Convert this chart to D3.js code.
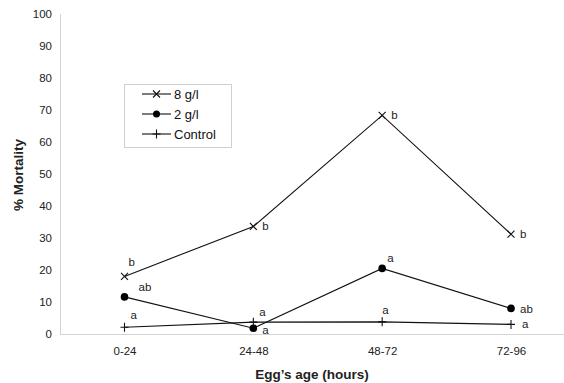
<!DOCTYPE html>
<html><head><meta charset="utf-8">
<script src="https://cdn.jsdelivr.net/npm/d3@7"></script>
<style>body{margin:0;background:#fff}svg{display:block;font-family:"Liberation Sans",Arial,sans-serif}</style>
</head><body><svg id="c" width="564" height="383"></svg>
<script>
const categories = ["0-24","24-48","48-72","72-96"];
const yTicks = [0,10,20,30,40,50,60,70,80,90,100];
const seriesNames = ["8 g/l","2 g/l","Control"];
const high = [18.0, 33.6, 68.3, 31.2];
const low = [11.6, 1.8, 20.5, 8.0];
const control = [2.1, 3.7, 3.8, 3.0];
const highLetters = ["b","b","b","b"];
const lowLetters = ["ab","a","a","ab"];
const controlLetters = ["a","a","a","a"];

const svg = d3.select("#c");
const mLeft = 60, mTop = 14, mBottom = 334;
const x = d3.scalePoint().domain(categories).range([124.5, 511]);
const y = d3.scaleLinear().domain([0,100]).range([mBottom, mTop]);

svg.append("line").attr("x1",mLeft+0.5).attr("x2",mLeft+0.5).attr("y1",mTop).attr("y2",mBottom).attr("stroke","#d4d4d4");
svg.append("line").attr("x1",mLeft).attr("x2",564).attr("y1",mBottom+0.5).attr("y2",mBottom+0.5).attr("stroke","#d4d4d4");

const yAxis = d3.axisLeft(y).tickValues(yTicks).tickSize(0).tickPadding(8);
const gy = svg.append("g").attr("transform",`translate(${mLeft},0)`).call(yAxis);
gy.select(".domain").remove();
gy.selectAll("text").attr("font-size",11.5).attr("fill","#222").attr("font-family","Liberation Sans, Arial, sans-serif");

const xAxis = d3.axisBottom(x).tickSize(0).tickPadding(13);
const gx = svg.append("g").attr("transform",`translate(0,${mBottom})`).call(xAxis);
gx.select(".domain").remove();
gx.selectAll("text").attr("font-size",11.5).attr("fill","#222").attr("font-family","Liberation Sans, Arial, sans-serif");

svg.append("text").attr("x",312).attr("y",379).attr("text-anchor","middle").attr("font-size",13.5).attr("font-weight","bold").attr("fill","#222").text("Egg’s age (hours)");
svg.append("text").attr("transform","translate(23,175) rotate(-90)").attr("text-anchor","middle").attr("font-size",13.5).attr("font-weight","bold").attr("fill","#222").text("% Mortality");

const line = d3.line().x((d,i)=>x(categories[i])).y(d=>y(d));
const series = [
  {vals: high, letters: highLetters, marker: "x"},
  {vals: low, letters: lowLetters, marker: "dot"},
  {vals: control, letters: controlLetters, marker: "plus"}
];
const offs = [
  [[4,-10],[9,4],[9,4],[9,4]],
  [[14,-6],[9,6],[5,-6],[9,5]],
  [[6,-8],[6,-6],[0,-8],[11,4]]
];

function drawMarker(g, type, cx, cy, r){
  if(type==="x"){
    const s=3.5;
    g.append("path").attr("d",`M${cx-s},${cy-s}L${cx+s},${cy+s}M${cx-s},${cy+s}L${cx+s},${cy-s}`).attr("stroke","#111").attr("stroke-width",1.1);
  } else if(type==="dot"){
    g.append("circle").attr("cx",cx).attr("cy",cy).attr("r",r||3.8).attr("fill","#000");
  } else {
    g.append("path").attr("d",`M${cx},${cy-4.5}L${cx},${cy+4.5}M${cx-4},${cy}L${cx+4},${cy}`).attr("stroke","#111").attr("stroke-width",1.1);
  }
}

series.forEach((s,si)=>{
  const g = svg.append("g");
  g.append("path").attr("d",line(s.vals)).attr("fill","none").attr("stroke","#111").attr("stroke-width",1.1);
  s.vals.forEach((v,i)=>{
    drawMarker(g, s.marker, x(categories[i]), y(v));
    g.append("text").attr("x",x(categories[i])+offs[si][i][0]).attr("y",y(v)+offs[si][i][1]).attr("font-size",11.5).attr("fill","#222").text(s.letters[i]);
  });
});

const lg = svg.append("g");
lg.append("rect").attr("x",124.5).attr("y",84.5).attr("width",107).attr("height",63).attr("fill","#fff").attr("stroke","#d0d0d0");
series.forEach((s,i)=>{
  const ly = 94 + i*20;
  lg.append("line").attr("x1",142).attr("x2",171).attr("y1",ly).attr("y2",ly).attr("stroke","#111").attr("stroke-width",1.1);
  drawMarker(lg, s.marker, 156.5, ly, 3.5);
  lg.append("text").attr("x",174).attr("y",ly+5).attr("font-size",13).attr("fill","#111").text(seriesNames[i]);
});
</script></body></html>
